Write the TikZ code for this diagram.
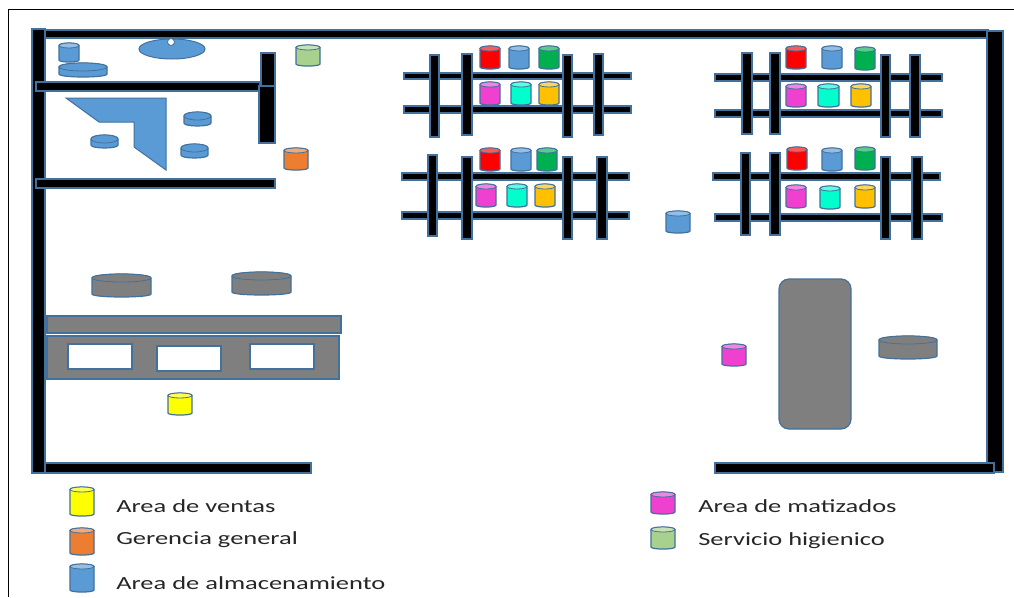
\documentclass[tikz,border=0pt]{standalone}
\usepackage{fontspec}
\setmainfont{Carlito}
\definecolor{edge}{HTML}{41719C}
\definecolor{cblue}{HTML}{5B9BD5}
\definecolor{cred}{HTML}{FF0000}
\definecolor{cgreen}{HTML}{00B050}
\definecolor{cmag}{HTML}{F040D0}
\definecolor{ccyan}{HTML}{00FFCC}
\definecolor{cgold}{HTML}{FFC000}
\definecolor{corange}{HTML}{ED7D31}
\definecolor{clime}{HTML}{A9D18E}
\definecolor{cyell}{HTML}{FFFF00}
\definecolor{cgray}{HTML}{7F7F7F}
\newcommand{\cyl}[5]{%
  \path[draw=edge,line width=1.2pt,fill=#5] (#1,{#2+2.5}) -- (#1,{#4-2})
    .. controls (#1,{#4+.7}) and (#3,{#4+.7}) .. (#3,{#4-2}) -- (#3,{#2+2.5})
    .. controls (#3,{#2-.8}) and (#1,{#2-.8}) .. (#1,{#2+2.5}) -- cycle;
  \path[draw=edge,line width=.8pt,fill=#5!65!white] ({(#1+#3)/2},{#2+2.5}) ellipse [x radius={(#3-#1)/2},y radius=2.5];
}
\newcommand{\flatcyl}[5]{%
  \path[draw=edge,line width=1.2pt,fill=#5] (#1,{#2+4}) -- (#1,{#4-3})
    .. controls (#1,{#4+1}) and (#3,{#4+1}) .. (#3,{#4-3}) -- (#3,{#2+4})
    .. controls (#3,{#2-1.3}) and (#1,{#2-1.3}) .. (#1,{#2+4}) -- cycle;
  \path[draw=edge,line width=.8pt,fill=#5] ({(#1+#3)/2},{#2+4}) ellipse [x radius={(#3-#1)/2},y radius=4];
}
\tikzset{
  wall/.style={fill=black,draw=edge,line width=1.2pt},
  graybox/.style={fill=cgray,draw=edge,line width=1.2pt},
  legend/.style={anchor=base west,inner sep=0pt,font=\fontsize{18.5}{20}\selectfont,text=black!85,xscale=1.43},
}
\begin{document}
\begin{tikzpicture}[x=1pt,y=-1pt]
\useasboundingbox (0,0) rectangle (1014,597);
\fill[white] (0,0) rectangle (1014,597);
% outer frame
\draw[black,line width=1.8pt] (8.5,597) -- (8.5,9.5) -- (1014,9.5);
% outer walls
\draw[wall] (45,30) rectangle (988,38);
\draw[wall] (32,29) rectangle (45,473);
\draw[wall] (45,463) rectangle (311,473);
\draw[wall] (987,31) rectangle (1003,472);
\draw[wall] (715,463) rectangle (994,473);
% inner walls
\draw[wall] (261,53) rectangle (275,86);
\draw[wall] (36,82) rectangle (260,91);
\draw[wall] (259,86) rectangle (275,143);
\draw[wall] (36,179) rectangle (275,188);
% office furniture
\path[fill=cblue,draw=edge,line width=1pt] (66,98) -- (166,98) -- (166,170) -- (134,147) -- (134,122) -- (99,122) -- cycle;
\path[fill=cblue,draw=edge,line width=1pt] (172,49) ellipse [x radius=33,y radius=10];
\path[fill=white,draw=edge,line width=.8pt] (171,42) circle [radius=3.5];
\cyl{59}{43}{79}{62}{cblue}
\flatcyl{59}{63}{107}{77}{cblue}
\flatcyl{184}{112}{211}{126}{cblue}
\flatcyl{91}{135}{118}{148}{cblue}
\flatcyl{181}{144}{208}{158}{cblue}
\cyl{296}{45}{320}{66}{clime}
\cyl{284}{148}{308}{170}{corange}
% shelf group 1
\foreach \a/\b in {73/79,106/113} \draw[wall] (404,\a) rectangle (631,\b);
\foreach \a/\b/\c/\d in {430/439/55/137,462/472/54/135,563/572/55/137,594/603/54/135} \draw[wall] (\a,\c) rectangle (\b,\d);
\cyl{480}{46}{500}{69}{cred}
\cyl{509}{46}{529}{69}{cblue}
\cyl{539}{46}{559}{69}{cgreen}
\cyl{480}{82}{500}{105}{cmag}
\cyl{511}{82}{531}{105}{ccyan}
\cyl{539}{82}{559}{105}{cgold}
% shelf group 2
\foreach \a/\b in {173/180,212/219} \draw[wall] (402,\a) rectangle (629,\b);
\foreach \a/\b/\c/\d in {428/437/155/236,462/472/157/239,563/572/157/239,597/607/157/239} \draw[wall] (\a,\c) rectangle (\b,\d);
\cyl{480}{148}{500}{171}{cred}
\cyl{511}{148}{531}{171}{cblue}
\cyl{537}{148}{557}{171}{cgreen}
\cyl{476}{184}{496}{207}{cmag}
\cyl{507}{184}{527}{207}{ccyan}
\cyl{535}{184}{555}{207}{cgold}
\cyl{666}{211}{690}{233}{cblue}
% shelf group 3
\foreach \a/\b in {74/81,110/117} \draw[wall] (715,\a) rectangle (942,\b);
\foreach \a/\b/\c/\d in {742/752/53/134,770/780/53/134,881/890/55/137,910/920/55/137} \draw[wall] (\a,\c) rectangle (\b,\d);
\cyl{786}{46}{806}{69}{cred}
\cyl{822}{46}{842}{69}{cblue}
\cyl{855}{47}{875}{70}{cgreen}
\cyl{786}{84}{806}{107}{cmag}
\cyl{818}{84}{839}{107}{ccyan}
\cyl{851}{84}{871}{107}{cgold}
% shelf group 4
\draw[wall] (713,173) rectangle (940,180);
\draw[wall] (715,214) rectangle (942,221);
\foreach \a/\b/\c/\d in {741/750/153/235,770/780/153/235,881/890/157/239,912/922/157/239} \draw[wall] (\a,\c) rectangle (\b,\d);
\cyl{787}{147}{807}{170}{cred}
\cyl{822}{148}{842}{171}{cblue}
\cyl{855}{147}{875}{170}{cgreen}
\cyl{786}{185}{806}{208}{cmag}
\cyl{820}{186}{840}{209}{ccyan}
\cyl{855}{185}{875}{208}{cgold}
% sales area
\flatcyl{92}{274}{151}{297}{cgray}
\flatcyl{232}{272}{291}{295}{cgray}
\draw[graybox] (47,316) rectangle (341,333);
\draw[graybox] (47,336) rectangle (339,379);
\draw[fill=white,draw=edge,line width=1.2pt] (68,344) rectangle (132,369);
\draw[fill=white,draw=edge,line width=1.2pt] (157,346) rectangle (221,371);
\draw[fill=white,draw=edge,line width=1.2pt] (250,344) rectangle (314,369);
\cyl{168}{393}{192}{415}{cyell}
% tinting area
\draw[graybox,rounded corners=10pt] (779,279) rectangle (851,429);
\flatcyl{879}{336}{937}{359}{cgray}
\cyl{722}{344}{746}{366}{cmag}
% legend
\cyl{70}{487}{94}{516}{cyell}
\cyl{70}{528}{94}{555}{corange}
\cyl{70}{564}{94}{592}{cblue}
\cyl{651}{492}{675}{514}{cmag}
\cyl{651}{527}{675}{549}{clime}
\node[legend] (t1) at (116,512) {Area de ventas};
\node[legend] (t2) at (116,544) {Gerencia general};
\node[legend] (t3) at (116,589) {Area de almacenamiento};
\node[legend] (t4) at (698,512) {Area de matizados};
\node[legend] (t5) at (698,545) {Servicio higienico};
\end{tikzpicture}
\end{document}
